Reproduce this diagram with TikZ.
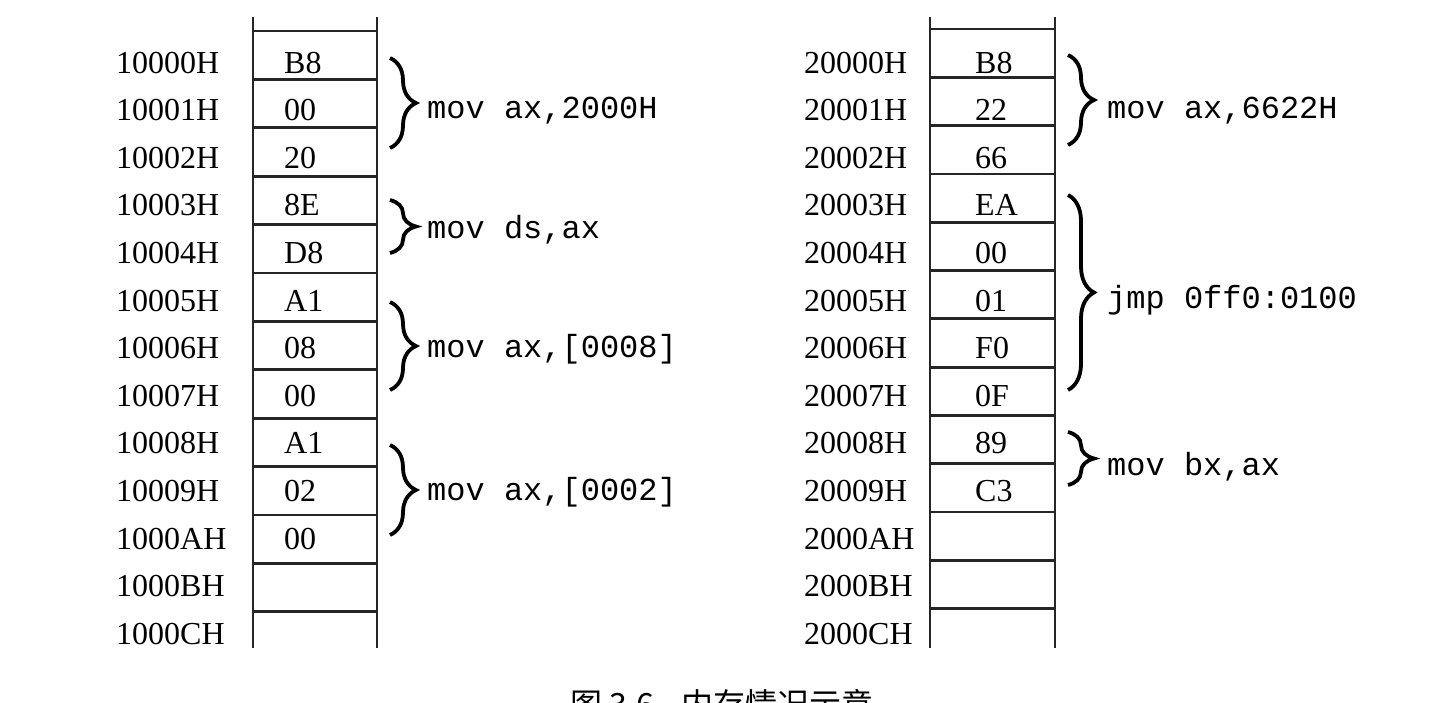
\documentclass[tikz,border=0pt]{standalone}
\usepackage{fontspec}
\setmainfont{Liberation Serif}
\setmonofont{Liberation Mono}
\newfontfamily\cjk{Noto Sans CJK SC}
\usetikzlibrary{decorations.pathreplacing}
\begin{document}
\begin{tikzpicture}[x=1pt,y=-1pt,
  grid/.style={line width=2.8pt, draw=black!85},
  addr/.style={anchor=base west, inner sep=0pt, font=\fontsize{32}{36}\selectfont},
  val/.style={anchor=base west, inner sep=0pt, font=\fontsize{32}{36}\selectfont},
  code/.style={anchor=base west, inner sep=0pt, font=\ttfamily\fontsize{32}{36}\selectfont},
  brc/.style={decorate, decoration={brace, amplitude=26pt}, line width=3.8pt, draw=black}]
\useasboundingbox (0,0) rectangle (1432,702);
\fill[white] (0,0) rectangle (1432,702);
% left memory column
\draw[grid] (253,17) -- (253,648);
\draw[grid] (377,17) -- (377,648);
\foreach \k in {0,...,12} \draw[grid] (253,{31+48.4*\k}) -- (377,{31+48.4*\k});
\foreach \a/\v [count=\i from 0] in {10000H/B8,10001H/00,10002H/20,10003H/8E,10004H/D8,10005H/A1,10006H/08,10007H/00,10008H/A1,10009H/02,1000AH/00,1000BH/,1000CH/} {
  \node[addr] (la\i) at (116,{73+47.6*\i}) {\a};
  \node[val] (lv\i) at (284,{73+47.6*\i}) {\v};
}
% right memory column
\draw[grid] (930,17) -- (930,648);
\draw[grid] (1055,17) -- (1055,648);
\foreach \k in {0,...,12} \draw[grid] (930,{29+48.3*\k}) -- (1055,{29+48.3*\k});
\foreach \a/\v [count=\i from 0] in {20000H/B8,20001H/22,20002H/66,20003H/EA,20004H/00,20005H/01,20006H/F0,20007H/0F,20008H/89,20009H/C3,2000AH/,2000BH/,2000CH/} {
  \node[addr] (ra\i) at (804,{73+47.6*\i}) {\a};
  \node[val] (rv\i) at (975,{73+47.6*\i}) {\v};
}
% braces left
\coordinate (lb1t) at (390,58);  \coordinate (lb1b) at (390,148);
\coordinate (lb2t) at (390,200); \coordinate (lb2b) at (390,253);
\coordinate (lb3t) at (390,302); \coordinate (lb3b) at (390,390);
\coordinate (lb4t) at (390,445); \coordinate (lb4b) at (390,535);
\draw[brc] (lb1t) -- (lb1b);
\draw[brc] (lb2t) -- (lb2b);
\draw[brc] (lb3t) -- (lb3b);
\draw[brc] (lb4t) -- (lb4b);
\node[code] (lc1) at (427,118) {mov ax,2000H};
\node[code] (lc2) at (427,238) {mov ds,ax};
\node[code] (lc3) at (427,357) {mov ax,[0008]};
\node[code] (lc4) at (427,500) {mov ax,[0002]};
% braces right
\coordinate (rb1t) at (1068,55);  \coordinate (rb1b) at (1068,145);
\coordinate (rb2t) at (1068,195); \coordinate (rb2b) at (1068,390);
\coordinate (rb3t) at (1068,432); \coordinate (rb3b) at (1068,485);
\draw[brc] (rb1t) -- (rb1b);
\draw[brc] (rb2t) -- (rb2b);
\draw[brc] (rb3t) -- (rb3b);
\node[code] (rc1) at (1107,118) {mov ax,6622H};
\node[code] (rc2) at (1107,308) {jmp 0ff0:0100};
\node[code] (rc3) at (1107,475) {mov bx,ax};
% caption (cut off at the bottom edge, as in the reference)
\node[anchor=base west, inner sep=0pt, font=\cjk\fontsize{32}{36}\selectfont] (cap) at (570,716) {图 3.6\hspace{28pt}内存情况示意};
\end{tikzpicture}
\end{document}
